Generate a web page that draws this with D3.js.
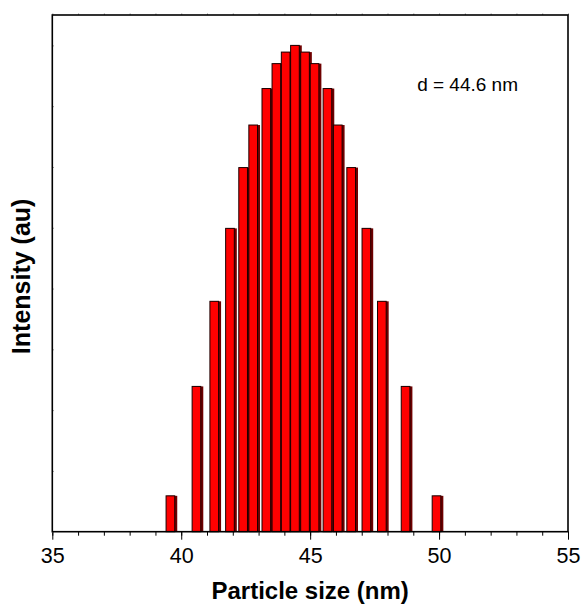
<!DOCTYPE html>
<meta charset="utf-8">
<style>
body { margin: 0; background: #fff; }
svg { display: block; }
text { font-family: "Liberation Sans", Arial, sans-serif; fill: #000; }
.bar { fill: #ff0000; stroke: #1a0000; stroke-width: 1; }
.shade { fill: #6e0000; }
</style>
<body>
<div id="chart"></div>
<script src="https://d3js.org/d3.v7.min.js"></script>
<script>

// particle sizes (nm) and intensities
var sizes = [39.60, 40.61, 41.30, 41.91, 42.42, 42.81, 43.32, 43.71, 44.07, 44.43,
             44.82, 45.19, 45.69, 46.09, 46.61, 47.20, 47.80, 48.72, 49.92];
var intensity = [0.59, 2.39, 3.79, 4.99, 5.99, 6.69, 7.29, 7.70, 7.89, 8.00,
                 7.89, 7.70, 7.29, 6.69, 5.99, 4.99, 3.79, 2.39, 0.59];
var xTicks = [35, 40, 45, 50, 55];
var xLabel = "Particle size (nm)";
var yLabel = "Intensity (au)";
var note = "d = 44.6 nm";

var margin = {top: 15, right: 19, bottom: 76.3, left: 52.3},
    W = 587, H = 608,
    width = W - margin.left - margin.right,
    height = H - margin.top - margin.bottom;

var x = d3.scaleLinear().domain([35, 55]).range([0, width]);
var y = d3.scaleLinear().domain([0, 8.5]).range([height, 0]);
var barW = x(35.375) - x(35);

var svg = d3.select("#chart").append("svg")
    .attr("width", W)
    .attr("height", H)
  .append("g")
    .attr("transform", "translate(" + margin.left + "," + margin.top + ")");

var data = sizes.map(function(s, i) { return {size: s, value: intensity[i]}; });

// shadow on the right side of each bar
svg.selectAll(".shade")
  .data(data)
  .enter().append("rect")
    .attr("class", "shade")
    .attr("x", d => x(d.size) - barW / 2 + 1.5)
    .attr("y", d => y(d.value))
    .attr("width", barW)
    .attr("height", d => height - y(d.value));

svg.selectAll(".bar")
  .data(data)
  .enter().append("rect")
    .attr("class", "bar")
    .attr("x", d => x(d.size) - barW / 2)
    .attr("y", d => y(d.value))
    .attr("width", barW - 1)
    .attr("height", d => height - y(d.value));

// minor ticks, bottom
svg.append("g")
    .attr("transform", "translate(0," + height + ")")
    .call(d3.axisBottom(x).ticks(20).tickSize(4).tickFormat(""))
    .call(g => g.select(".domain").remove());

// major ticks + labels, bottom
svg.append("g")
    .attr("transform", "translate(0," + height + ")")
    .call(d3.axisBottom(x).tickValues(xTicks).tickSize(8).tickPadding(8).tickFormat(d3.format("d")))
    .call(g => g.select(".domain").remove())
    .call(g => g.selectAll("text").style("font-size", "21.5px").attr("fill", "#000"));

// faint ticks on top and left
svg.append("g")
    .call(d3.axisTop(x).ticks(20).tickSize(1.5).tickFormat(""))
    .call(g => g.select(".domain").remove())
    .call(g => g.selectAll("line").attr("stroke", "#888"));

svg.append("g")
    .call(d3.axisRight(y).ticks(8).tickSize(1.5).tickFormat(""))
    .call(g => g.select(".domain").remove())
    .call(g => g.selectAll("line").attr("stroke", "#888"));

// frame
svg.append("rect")
    .attr("width", width)
    .attr("height", height)
    .attr("fill", "none")
    .attr("stroke", "#000")
    .attr("stroke-width", 1.6);

svg.append("text")
    .attr("x", width / 2)
    .attr("y", height + 67)
    .attr("text-anchor", "middle")
    .style("font-size", "24px")
    .style("font-weight", "bold")
    .text(xLabel);

svg.append("text")
    .attr("transform", "translate(" + (-22) + "," + (height / 2 + 3) + ") rotate(-90)")
    .attr("text-anchor", "middle")
    .style("font-size", "25px")
    .style("font-weight", "bold")
    .text(yLabel);

svg.append("text")
    .attr("x", x(49.15))
    .attr("y", y(7.25))
    .style("font-size", "19px")
    .text(note);

</script>
</body>
